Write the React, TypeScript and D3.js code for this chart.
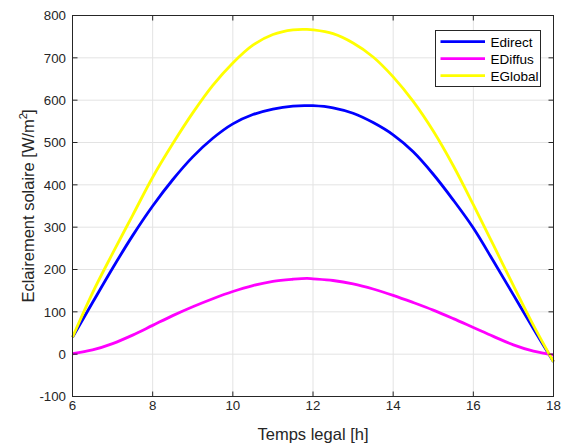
import React from "react";
import * as d3 from "d3";

const hours = [6, 6.5, 7, 7.5, 8, 8.5, 9, 9.5, 10, 10.5, 11, 11.5, 11.85, 12, 12.5, 13, 13.5, 14, 14.5, 15, 15.5, 16, 16.5, 17, 17.5, 18];
const eDirect = [40, 122, 203, 280, 350, 412, 466, 510, 544, 566, 579, 586, 587, 587, 582, 569, 547, 518, 478, 425, 364, 298, 220, 140, 60, -18];
const eDiffus = [1, 10, 25, 45, 68, 91, 112, 131, 148, 162, 172, 177, 179, 178, 174, 166, 154, 139, 122, 104, 84, 63, 42, 22, 7, -2];
const eGlobal = [40, 145, 238, 328, 418, 497, 570, 635, 688, 730, 755, 766, 767, 766, 757, 735, 702, 655, 597, 527, 445, 353, 258, 162, 68, -18];

const seriesNames = ["Edirect", "EDiffus", "EGlobal"];
const seriesColors = ["#0000ff", "#ff00ff", "#ffff00"];
const xTicks = [6, 8, 10, 12, 14, 16, 18];
const yTicks = [-100, 0, 100, 200, 300, 400, 500, 600, 700, 800];

export default function App() {
  const W = 566, H = 447;
  const left = 72.5, right = 553.5, top = 15.5, bottom = 396.5;
  const x = d3.scaleLinear().domain([6, 18]).range([left, right]);
  const y = d3.scaleLinear().domain([-100, 800]).range([bottom, top]);
  const all = [eDirect, eDiffus, eGlobal];
  const line = d3
    .line<number>()
    .x((_, i) => x(hours[i]))
    .y((v) => y(v))
    .curve(d3.curveCatmullRom.alpha(0.5));
  const axisColor = "#262626";
  const gridColor = "#e3e3e3";
  const font = "'Liberation Sans', Arial, sans-serif";
  const tl = 5;

  return (
    <svg width={W} height={H} style={{ position: "absolute", left: 0, top: 0, background: "#fff" }} fontFamily={font}>
      <rect x={0} y={0} width={W} height={H} fill="#fff" />
      {xTicks.map((t) => (
        <line key={"gx" + t} x1={x(t)} x2={x(t)} y1={top} y2={bottom} stroke={gridColor} strokeWidth={1} />
      ))}
      {yTicks.map((t) => (
        <line key={"gy" + t} x1={left} x2={right} y1={y(t)} y2={y(t)} stroke={gridColor} strokeWidth={1} />
      ))}
      {all.map((s, i) => (
        <path key={seriesNames[i]} d={line(s) || ""} fill="none" stroke={seriesColors[i]} strokeWidth={2.8} strokeLinejoin="round" />
      ))}
      <rect x={left} y={top} width={right - left} height={bottom - top} fill="none" stroke={axisColor} strokeWidth={1} />
      {xTicks.map((t) => (
        <g key={"tx" + t}>
          <line x1={x(t)} x2={x(t)} y1={bottom} y2={bottom - tl} stroke={axisColor} />
          <line x1={x(t)} x2={x(t)} y1={top} y2={top + tl} stroke={axisColor} />
          <text x={x(t)} y={409.5} textAnchor="middle" fontSize={13.3} fill={axisColor}>
            {t}
          </text>
        </g>
      ))}
      {yTicks.map((t) => (
        <g key={"ty" + t}>
          <line x1={left} x2={left + tl} y1={y(t)} y2={y(t)} stroke={axisColor} />
          <line x1={right} x2={right - tl} y1={y(t)} y2={y(t)} stroke={axisColor} />
          <text x={66} y={y(t) + 4.7} textAnchor="end" fontSize={13.3} fill={axisColor}>
            {t}
          </text>
        </g>
      ))}
      <text x={(left + right) / 2} y={440} textAnchor="middle" fontSize={16.5} fill={axisColor}>
        Temps legal [h]
      </text>
      <text transform={`translate(34,${(top + bottom) / 2}) rotate(-90)`} textAnchor="middle" fontSize={16.5} fill={axisColor}>
        Eclairement solaire [W/m<tspan dy={-7} fontSize={11}>2</tspan><tspan dy={7} dx={-1}>]</tspan>
      </text>
      <g>
        <rect x={435.5} y={30.5} width={105} height={56} fill="#fff" stroke={axisColor} strokeWidth={1} />
        {seriesNames.map((n, i) => (
          <g key={"lg" + n}>
            <line x1={440.5} x2={485} y1={41.7 + i * 17} y2={41.7 + i * 17} stroke={seriesColors[i]} strokeWidth={2.8} />
            <text x={490.5} y={41.7 + i * 17 + 4.8} fontSize={13.5} fill="#000">
              {n}
            </text>
          </g>
        ))}
      </g>
    </svg>
  );
}
